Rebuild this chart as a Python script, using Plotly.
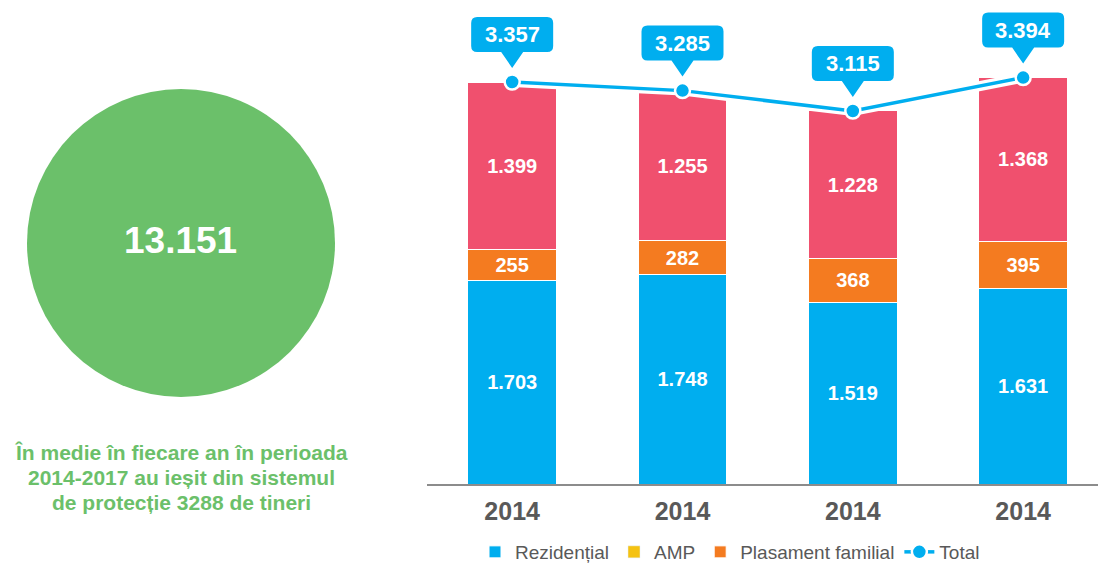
import plotly.graph_objects as go

# ---------------- data ----------------
year_labels = ["2014", "2014", "2014", "2014"]
rezidential = [1703, 1748, 1519, 1631]
plasament_familial = [255, 282, 368, 395]
amp = [1399, 1255, 1228, 1368]
total = [3357, 3285, 3115, 3394]
big_number = "13.151"
caption_lines = [
    "În medie în fiecare an în perioada",
    "2014-2017 au ieșit din sistemul",
    "de protecție 3288 de tineri",
]

# ---------------- style ----------------
BLUE = "#00AEEF"
PINK = "#F0506E"
ORANGE = "#F47B20"
YELLOW = "#F5C211"
GREEN = "#6BC06A"
GRAY = "#595959"
FONT = "Liberation Sans, Arial, sans-serif"

W, H = 1098, 563
ML, MR, MT, MB = 427, 0, 0, 79
PW, PH = W - ML - MR, H - MT - MB


def fmt(v):
    return f"{v:,}".replace(",", ".")


def px_x(px):
    return (px - ML) / PW


def px_y(py):
    return (H - MB - py) / PH


xs = list(range(len(year_labels)))

fig = go.Figure()

bar_common = dict(
    x=xs,
    width=0.52,
    marker_line=dict(color="white", width=1),
    textposition="inside",
    insidetextanchor="middle",
    textangle=0,
    constraintext="none",
    textfont=dict(color="white", size=20, family=FONT, weight="bold"),
    hoverinfo="name+y",
)

fig.add_trace(go.Bar(name="Rezidențial", y=rezidential, marker_color=BLUE,
                     text=[fmt(v) for v in rezidential], legendrank=1, **bar_common))
fig.add_trace(go.Bar(name="Plasament familial", y=plasament_familial, marker_color=ORANGE,
                     text=[fmt(v) for v in plasament_familial], legendrank=3, **bar_common))
fig.add_trace(go.Bar(name="AMP", y=amp, marker_color=PINK, showlegend=False,
                     legendgroup="amp",
                     text=[fmt(v) for v in amp], **bar_common))
# legend entry for AMP (legend colour differs from the bar fill in the original)
fig.add_trace(go.Bar(name="AMP", x=xs, y=[None] * len(xs), marker_color=YELLOW,
                     legendgroup="amp", legendrank=2, hoverinfo="skip"))

# total line: white halo then blue line
fig.add_trace(go.Scatter(x=xs, y=total, mode="lines", line=dict(color="white", width=10),
                         showlegend=False, hoverinfo="skip"))
fig.add_trace(go.Scatter(name="Total", x=xs, y=total, mode="lines+markers",
                         line=dict(color=BLUE, width=3.5),
                         marker=dict(size=15, color=BLUE, line=dict(color="white", width=2.5)),
                         legendrank=4))

shapes = []
annotations = []

# callouts for totals
callout_path = ("M -35,65 L 35,65 Q 41,65 41,59 L 41,36 Q 41,30 35,30 "
                "L 11,30 L 0,14 L -11,30 L -35,30 Q -41,30 -41,36 L -41,59 Q -41,65 -35,65 Z")
for xi, t in zip(xs, total):
    shapes.append(dict(type="path", xref="x", yref="y", xsizemode="pixel", ysizemode="pixel",
                       xanchor=xi, yanchor=t, path=callout_path,
                       fillcolor=BLUE, line=dict(width=0), layer="above"))
    annotations.append(dict(x=xi, y=t, xref="x", yref="y", yshift=47.5, showarrow=False,
                            xanchor="center", yanchor="middle",
                            text=f"<b>{fmt(t)}</b>",
                            font=dict(color="white", size=22, family=FONT)))

# green circle with the big number
shapes.append(dict(type="circle", xref="paper", yref="paper",
                   x0=px_x(27), x1=px_x(335), y0=px_y(397), y1=px_y(89),
                   fillcolor=GREEN, line=dict(width=0)))
annotations.append(dict(x=px_x(180), y=px_y(240), xref="paper", yref="paper",
                        xanchor="center", yanchor="middle",
                        showarrow=False, text=f"<b>{big_number}</b>",
                        font=dict(color="white", size=37, family=FONT)))

# caption
for line, py in zip(caption_lines, [452, 477, 503]):
    annotations.append(dict(x=px_x(181), y=px_y(py), xref="paper", yref="paper",
                            xanchor="center", yanchor="middle",
                            showarrow=False, text=f"<b>{line}</b>",
                            font=dict(color=GREEN, size=21, family=FONT)))

fig.update_layout(
    width=W, height=H,
    margin=dict(l=ML, r=MR, t=MT, b=MB, autoexpand=False),
    barmode="stack",
    plot_bgcolor="white", paper_bgcolor="white",
    font=dict(family=FONT, color=GRAY),
    shapes=shapes,
    annotations=annotations,
    showlegend=True,
    legend=dict(orientation="h", x=px_x(475), y=px_y(552), xanchor="left", yanchor="middle",
                traceorder="normal", font=dict(size=19, color=GRAY, family=FONT),
                itemwidth=30, bgcolor="rgba(0,0,0,0)"),
    xaxis=dict(range=[-0.5, -0.5 + PW / 170.33], tickmode="array", tickvals=xs,
               ticktext=year_labels, showgrid=False, zeroline=False,
               showline=True, linecolor="#8C8C8C", linewidth=1.5, ticks="",
               ticklabelstandoff=4,
               tickfont=dict(size=25, color=GRAY, family=FONT, weight="bold"), fixedrange=True),
    yaxis=dict(range=[0, PH / 0.11975], visible=False, showgrid=False, zeroline=False,
               fixedrange=True),
)

fig.write_html("out.html", config={"displayModeBar": False},
               post_script="document.body.style.margin='0';")
